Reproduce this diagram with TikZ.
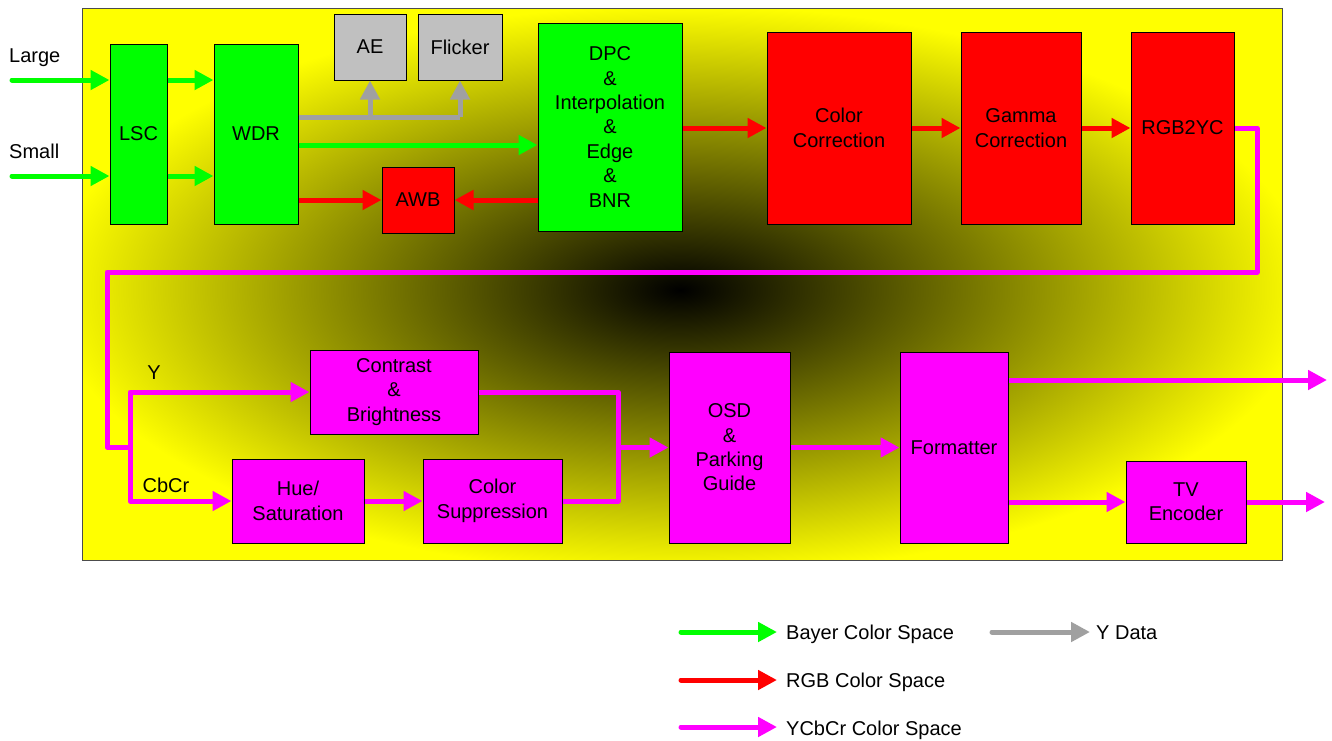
\documentclass[tikz,border=0pt]{standalone}
\usepackage{fontspec}
\setmainfont{Liberation Sans}
\usetikzlibrary{arrows.meta,calc}
\definecolor{cgreen}{RGB}{0,255,0}
\definecolor{cred}{RGB}{255,0,0}
\definecolor{cmag}{RGB}{255,0,255}
\definecolor{cyel}{RGB}{255,255,0}
\definecolor{cgrayline}{RGB}{160,160,160}
\definecolor{cgraybox}{RGB}{192,192,192}
\tikzset{
  bx/.style n args={3}{draw=black, line width=1pt, fill=#1, minimum width=#2, minimum height=#3,
     inner sep=0pt, align=center, font=\fontsize{20}{24.4}\selectfont},
  lbl/.style={inner sep=0pt, font=\fontsize{20}{24.4}\selectfont},
  conn/.style={line width=5pt, line join=round},
  tip/.style={-{Triangle[length=19pt,width=19pt]}},
  gconn/.style={conn, draw=cgreen},
  rconn/.style={conn, draw=cred},
  mconn/.style={conn, draw=cmag},
  yconn/.style={conn, draw=cgrayline},
}
\begin{document}
\begin{tikzpicture}[x=1pt,y=-1pt]
\useasboundingbox (0,0) rectangle (1332,740);
% background
\fill[white] (0,0) rectangle (1332,740);
\fill[cyel] (82,8) rectangle (1282,560);
\begin{scope}
  \clip (82,8) rectangle (1282,560);
  \shade[inner color=black, outer color=cyel] (680,290) ellipse [x radius=630, y radius=285];
\end{scope}
\draw[line width=1pt, black!70] (82,8) rectangle (1282,560);

% boxes
\node[bx={cgreen}{57pt}{180pt}] (LSC) at (138.5,134) {LSC};
\node[bx={cgreen}{84pt}{180pt}] (WDR) at (256,134) {WDR};
\node[bx={cgraybox}{72pt}{66pt}] (AE) at (370,47) {AE};
\node[bx={cgraybox}{84pt}{66pt}] (FL) at (460,47) {Flicker};
\node[bx={cgreen}{144pt}{208pt}] (DPC) at (610,127) {DPC\\\&\\Interpolation\\\&\\Edge\\\&\\BNR};
\node[bx={cred}{72pt}{66pt}] (AWB) at (418,200) {AWB};
\node[bx={cred}{144pt}{192pt}] (CC) at (839,128) {Color\\Correction};
\node[bx={cred}{120pt}{192pt}] (GC) at (1021,128) {Gamma\\Correction};
\node[bx={cred}{103pt}{192pt}] (RGB) at (1182.5,128) {RGB2YC};
\node[bx={cmag}{168pt}{84pt}] (CB) at (394,392) {Contrast\\\&\\Brightness};
\node[bx={cmag}{132pt}{84pt}] (HS) at (298,501) {Hue/\\Saturation};
\node[bx={cmag}{139pt}{84pt}] (CS) at (492.5,501) {Color\\Suppression};
\node[bx={cmag}{121pt}{191pt}] (OSD) at (729.5,447.5) {OSD\\\&\\Parking\\Guide};
\node[bx={cmag}{108pt}{191pt}] (FMT) at (954,447.5) {Formatter};
\node[bx={cmag}{120pt}{82pt}] (TV) at (1186,502) {TV\\Encoder};

% labels
\node[lbl, anchor=base west] (tLarge) at (9,62) {Large};
\node[lbl, anchor=base west] (tSmall) at (9,158) {Small};
\node[lbl, anchor=base] (tY) at (154,379) {Y};
\node[lbl, anchor=base] (tCbCr) at (166,492) {CbCr};

% coordinates
\coordinate (inL) at (12,80);
\coordinate (inS) at (12,176);
\coordinate (gy) at (0,117);
\coordinate (gb) at (0,145);
\coordinate (loopR) at (1257,272);
\coordinate (loopL) at (107,272);
\coordinate (split) at (130,447);
\coordinate (merge) at (618,447.5);
\coordinate (out1) at (1327,380);
\coordinate (out2) at (1325,502);

% green
\draw[gconn, tip, line cap=round] (inL) -- (inL -| LSC.west);
\draw[gconn, tip, line cap=round] (inS) -- (inS -| LSC.west);
\draw[gconn, tip] (inL -| LSC.east) -- (inL -| WDR.west);
\draw[gconn, tip] (inS -| LSC.east) -- (inS -| WDR.west);
\draw[gconn, tip] (gb -| WDR.east) -- (gb -| DPC.west);
% gray
\draw[yconn] (gy -| WDR.east) -- (gy -| FL.south);
\draw[yconn, tip] (gy -| AE.south) -- (AE.south);
\draw[yconn, tip] (gy -| FL.south) -- (FL.south);
% red
\draw[rconn, tip] (WDR.east |- AWB.west) -- (AWB.west);
\draw[rconn, tip] (DPC.west |- AWB.east) -- (AWB.east);
\draw[rconn, tip] (DPC.east |- CC.west) -- (CC.west);
\draw[rconn, tip] (CC.east) -- (GC.west);
\draw[rconn, tip] (GC.east) -- (RGB.west);
% magenta
\draw[mconn] (RGB.east) -| (loopR) -- (loopL) |- (split);
\draw[mconn, tip] (split) |- (CB.west);
\draw[mconn, tip] (split) |- (HS.west);
\draw[mconn, tip] (HS.east) -- (CS.west);
\draw[mconn] (CB.east) -| (merge);
\draw[mconn] (CS.east) -| (merge);
\draw[mconn, tip] (merge) -- (OSD.west);
\draw[mconn, tip] (OSD.east) -- (FMT.west);
\draw[mconn, tip] (out1 -| FMT.east) -- (out1);
\draw[mconn, tip] (FMT.east |- TV.west) -- (TV.west);
\draw[mconn, tip] (TV.east) -- (out2);

% legend
\node[lbl, anchor=base west] (lgB) at (786,639) {Bayer Color Space};
\node[lbl, anchor=base west] (lgY) at (1096,639) {Y Data};
\node[lbl, anchor=base west] (lgR) at (786,687) {RGB Color Space};
\node[lbl, anchor=base west] (lgM) at (786,735) {YCbCr Color Space};
\coordinate (lB) at (681,632);
\coordinate (lY) at (992,632);
\coordinate (lR) at (681,680);
\coordinate (lM) at (681,727);
\draw[gconn, tip, line cap=round] (lB) -- (777,632);
\draw[yconn, tip, line cap=round] (lY) -- (1090,632);
\draw[rconn, tip, line cap=round] (lR) -- (777,680);
\draw[mconn, tip, line cap=round] (lM) -- (777,727);
\end{tikzpicture}
\end{document}
